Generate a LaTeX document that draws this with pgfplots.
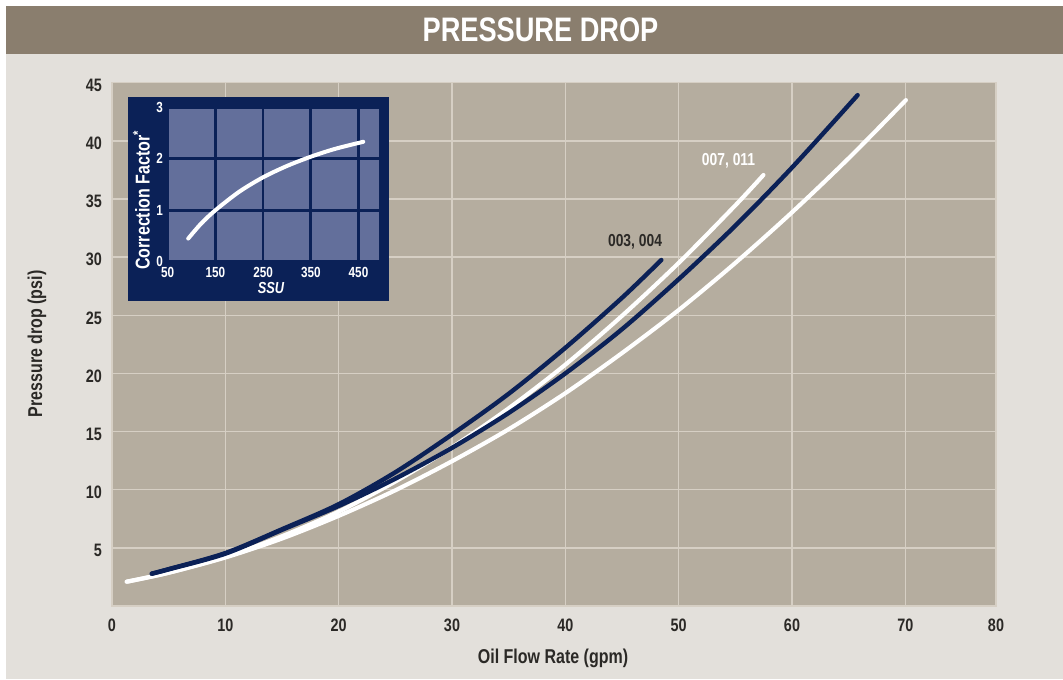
\documentclass[border=0pt]{standalone}
\usepackage{pgfplots}
\pgfplotsset{compat=1.18}
\usepackage{fontspec}
\setmainfont{Liberation Sans}[FakeStretch=0.8]
\definecolor{bgc}{HTML}{E3E0DB}
\definecolor{bannerc}{HTML}{8A7E6E}
\definecolor{plotc}{HTML}{B5AD9F}
\definecolor{gridc}{HTML}{D6CFC4}
\definecolor{navyc}{HTML}{0B2157}
\definecolor{insetc}{HTML}{636F9B}
\definecolor{textc}{HTML}{2B2926}
\begin{document}
\begin{tikzpicture}[x=0.75pt,y=0.75pt]
\useasboundingbox (0,0) rectangle (1063,679);
\fill[white] (0,0) rectangle (1063,679);
\fill[bgc] (6,0) rectangle (1063,673);
\fill[bannerc] (6,625) rectangle (1063,673);
\node[text=white,font=\bfseries\fontsize{25.5}{28}\selectfont] at (540.5,649) {PRESSURE DROP};

\begin{axis}[
  at={(84pt,54.75pt)}, anchor=south west,
  scale only axis, width=663pt, height=392.5pt,
  xmin=0, xmax=78, ymin=0, ymax=45,
  xtick={0,10,...,70}, ytick={5,10,...,45},
  extra x ticks={78}, extra x tick labels={80},
  extra x tick style={grid=none},
  grid=major,
  major grid style={gridc, line width=1.1pt},
  axis line style={gridc, line width=1.1pt},
  axis background/.style={fill=plotc},
  major tick length=0pt,
  tick style={draw=none},
  /pgf/number format/assume math mode=true,
  ticklabel style={font=\bfseries\fontsize{13.5}{15}\selectfont, text=textc},
  yticklabel style={xshift=-4pt, yshift=-2pt},
  xticklabel style={yshift=-6.5pt},
]
\addplot[white, line width=3.1pt, line cap=round, smooth] coordinates {
(1.3,2.09) (5,2.86) (10,4.17) (15,5.8) (20,7.75) (25,9.95) (30,12.45)
(35,15.2) (40,18.3) (45,21.75) (50,25.45) (55,29.5) (60,33.85) (65,38.5) (70.05,43.5)};
\addplot[white, line width=3.1pt, line cap=round, smooth] coordinates {
(1.3,2.09) (5,2.86) (10,4.22) (15,6.0) (20,8.12) (25,10.7) (30,13.65)
(35,17.0) (40,20.75) (45,24.95) (50,29.5) (55,34.45) (57.48,37.06)};
\addplot[navyc, line width=3.3pt, line cap=round, smooth] coordinates {
(3.51,2.78) (5,3.15) (10,4.5) (15,6.55) (20,8.6) (25,10.95) (30,13.6)
(35,16.6) (40,20.0) (45,23.8) (50,28.1) (55,32.7) (60,37.7) (65.79,43.93)};
\addplot[navyc, line width=3.3pt, line cap=round, smooth] coordinates {
(3.51,2.78) (5,3.17) (10,4.55) (15,6.6) (20,8.75) (25,11.5) (30,14.75)
(35,18.25) (40,22.2) (45,26.5) (48.47,29.75)};
\node[text=textc, font=\bfseries\fontsize{13}{15}\selectfont] at (axis cs:46.15,31.34) {003, 004};
\node[text=white, font=\bfseries\fontsize{13}{15}\selectfont] at (axis cs:54.4,38.26) {007, 011};
\end{axis}

\node[rotate=90, text=textc, font=\bfseries\fontsize{15}{17}\selectfont] at (37,335) {Pressure drop (psi)};
\node[text=textc, font=\bfseries\fontsize{15}{17}\selectfont] at (553,21) {Oil Flow Rate (gpm)};

\fill[navyc] (128.3,378.3) rectangle (389.3,581.7);
\begin{axis}[
  at={(125.775pt,312.975pt)}, anchor=south west,
  scale only axis, width=159.2pt, height=115.8pt,
  xmin=50, xmax=495, ymin=0, ymax=3,
  xtick={50,150,250,350,450}, ytick={0,1,2,3},
  grid=major,
  major grid style={navyc, line width=2pt},
  axis line style={navyc, line width=2pt},
  axis background/.style={fill=insetc},
  major tick length=0pt,
  tick style={draw=none},
  /pgf/number format/assume math mode=true,
  ticklabel style={font=\bfseries\fontsize{11}{12}\selectfont, text=white},
  xticklabel style={yshift=-1pt},
]
\addplot[white, line width=3pt, line cap=round, smooth] coordinates {
(93,0.45) (120,0.74) (150,1.0) (200,1.36) (250,1.64) (300,1.86) (350,2.04) (400,2.19) (460,2.33)};
\end{axis}
\node[rotate=90, text=white, font=\bfseries\fontsize{15}{17}\selectfont] at (141.5,479) {Correction Factor\textsuperscript{*}};
\node[text=white, font=\bfseries\itshape\fontsize{12}{14}\selectfont] at (271,391) {SSU};
\end{tikzpicture}
\end{document}
